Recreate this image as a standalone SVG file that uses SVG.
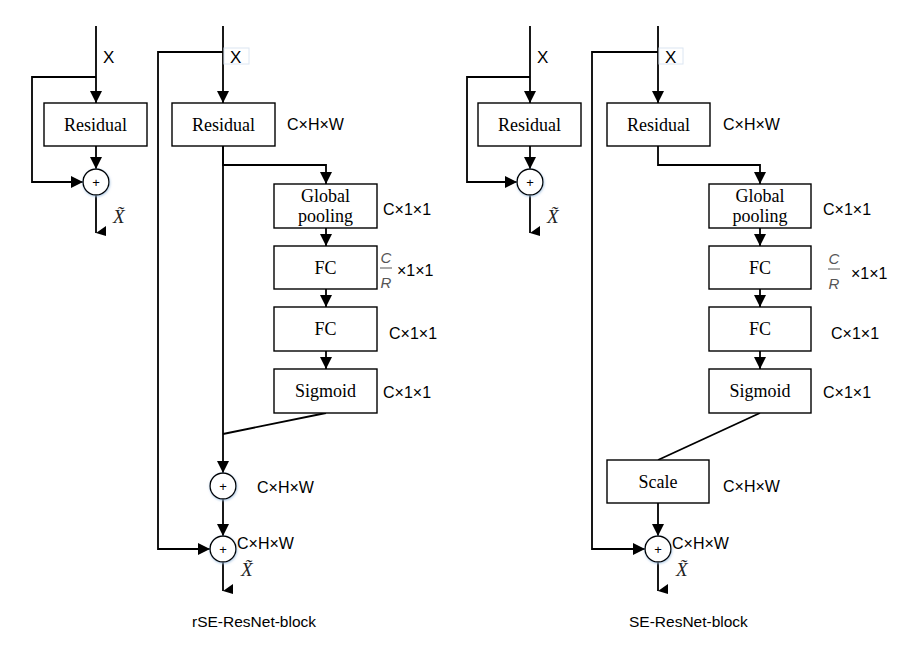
<svg xmlns="http://www.w3.org/2000/svg" width="913" height="656" viewBox="0 0 913 656">
<style>
.ln{fill:none;stroke:#000;stroke-width:1.8}
.box{fill:#fff;stroke:#000;stroke-width:1.4}
.bt{font-family:"Liberation Serif",serif;font-size:18px;text-anchor:middle;fill:#000}
.lb{font-family:"Liberation Sans",Arial,sans-serif;font-size:16px;fill:#000}
.xl{font-family:"Liberation Sans",Arial,sans-serif;font-size:17px;fill:#000}
.xt{font-family:"Liberation Serif",serif;font-size:19px;font-style:italic;fill:#222}
.fr{font-family:"Liberation Sans",Arial,sans-serif;font-size:15px;font-style:italic;fill:#555;text-anchor:middle}
.cap{font-family:"Liberation Sans",Arial,sans-serif;font-size:15.5px;fill:#000}
.cir{fill:#fff;stroke:#000;stroke-width:1.4}
.pl{font-family:"Liberation Sans",Arial,sans-serif;font-size:13px;text-anchor:middle;fill:#000}
.tri{fill:#000}
.xb{fill:none;stroke:#dce6f2;stroke-width:1}
</style>
<defs>
<marker id="ar" markerUnits="userSpaceOnUse" markerWidth="12" markerHeight="12" refX="12" refY="6" orient="auto">
<path d="M0,0 L12,6 L0,12 z" fill="#000"/>
</marker>
<filter id="gl" x="-50%" y="-50%" width="200%" height="200%">
<feDropShadow dx="0.5" dy="1" stdDeviation="1.2" flood-color="#9fbfe0" flood-opacity="0.8"/>
</filter>
</defs>

<g id="connectors">
<!-- panel 1 -->
<line class="ln" x1="96" y1="26" x2="96" y2="103" marker-end="url(#ar)"/>
<polyline class="ln" points="96,77 32,77 32,182 83,182" marker-end="url(#ar)"/>
<line class="ln" x1="96" y1="146" x2="96" y2="169" marker-end="url(#ar)"/>
<line class="ln" x1="96" y1="195" x2="96" y2="233"/>
<polygon class="tri" points="96,233 106,226 106,236"/>
<!-- panel 2 -->
<line class="ln" x1="223" y1="26" x2="223" y2="103" marker-end="url(#ar)"/>
<polyline class="ln" points="223,52 158,52 158,549 210,549" marker-end="url(#ar)"/>
<polyline class="ln" points="223,146 223,165 326,165 326,184" marker-end="url(#ar)"/>
<line class="ln" x1="326" y1="228" x2="326" y2="246" marker-end="url(#ar)"/>
<line class="ln" x1="326" y1="289" x2="326" y2="307" marker-end="url(#ar)"/>
<line class="ln" x1="326" y1="351" x2="326" y2="369" marker-end="url(#ar)"/>
<line class="ln" x1="223" y1="146" x2="223" y2="473" marker-end="url(#ar)"/>
<line class="ln" x1="326" y1="413" x2="223" y2="434"/>
<line class="ln" x1="223" y1="499" x2="223" y2="536" marker-end="url(#ar)"/>
<line class="ln" x1="223" y1="562" x2="223" y2="591"/>
<polygon class="tri" points="223,591 233,584 233,594"/>
<!-- panel 3 -->
<line class="ln" x1="530" y1="26" x2="530" y2="103" marker-end="url(#ar)"/>
<polyline class="ln" points="530,77 467,77 467,182 517,182" marker-end="url(#ar)"/>
<line class="ln" x1="530" y1="146" x2="530" y2="169" marker-end="url(#ar)"/>
<line class="ln" x1="530" y1="195" x2="530" y2="233"/>
<polygon class="tri" points="530,233 540,226 540,236"/>
<!-- panel 4 -->
<line class="ln" x1="658" y1="26" x2="658" y2="103" marker-end="url(#ar)"/>
<polyline class="ln" points="658,52 592,52 592,549 645,549" marker-end="url(#ar)"/>
<polyline class="ln" points="658,146 658,165 760,165 760,184" marker-end="url(#ar)"/>
<line class="ln" x1="760" y1="228" x2="760" y2="246" marker-end="url(#ar)"/>
<line class="ln" x1="760" y1="289" x2="760" y2="307" marker-end="url(#ar)"/>
<line class="ln" x1="760" y1="351" x2="760" y2="369" marker-end="url(#ar)"/>
<line class="ln" x1="760" y1="413" x2="658" y2="460"/>
<line class="ln" x1="658" y1="503" x2="658" y2="536" marker-end="url(#ar)"/>
<line class="ln" x1="658" y1="562" x2="658" y2="591"/>
<polygon class="tri" points="658,591 668,584 668,594"/>
</g>

<!-- panel 1 nodes -->
<g id="p1-x"><text class="xl" x="103" y="63">X</text></g>
<g id="p1-residual"><rect class="box" x="44" y="103" width="103" height="43"/><text class="bt" x="95.5" y="131">Residual</text></g>
<g id="p1-add"><circle class="cir" cx="96" cy="182" r="13" filter="url(#gl)"/><text class="pl" x="96" y="187">+</text></g>
<g id="p1-out"><text class="xt" x="113" y="223">X̃</text></g>

<!-- panel 2 nodes -->
<g id="p2-x"><rect class="xb" x="224" y="48" width="25" height="16"/><text class="xl" x="230" y="63">X</text></g>
<g id="p2-residual"><rect class="box" x="172" y="103" width="103" height="43"/><text class="bt" x="223.5" y="131">Residual</text><text class="lb" x="287" y="130">C×H×W</text></g>
<g id="p2-gpool"><rect class="box" x="274" y="184" width="103" height="44"/><text class="bt" x="325.5" y="202">Global</text><text class="bt" x="325.5" y="222">pooling</text><text class="lb" x="383" y="215">C×1×1</text></g>
<g id="p2-fc1"><rect class="box" x="274" y="246" width="103" height="43"/><text class="bt" x="325.5" y="274">FC</text>
<text class="fr" x="386" y="263">C</text><line x1="380" y1="268" x2="392" y2="268" stroke="#555" stroke-width="1"/><text class="fr" x="386" y="288">R</text><text class="lb" x="397" y="276">×1×1</text></g>
<g id="p2-fc2"><rect class="box" x="274" y="307" width="103" height="44"/><text class="bt" x="325.5" y="335">FC</text><text class="lb" x="389" y="339">C×1×1</text></g>
<g id="p2-sigmoid"><rect class="box" x="274" y="369" width="103" height="44"/><text class="bt" x="325.5" y="397">Sigmoid</text><text class="lb" x="383" y="398">C×1×1</text></g>
<g id="p2-add1"><circle class="cir" cx="223" cy="486" r="13" filter="url(#gl)"/><text class="pl" x="223" y="491">+</text><text class="lb" x="257" y="493">C×H×W</text></g>
<g id="p2-add2"><circle class="cir" cx="223" cy="549" r="13" filter="url(#gl)"/><text class="pl" x="223" y="554">+</text><text class="lb" x="237" y="549">C×H×W</text></g>
<g id="p2-out"><text class="xt" x="241" y="576">X̃</text></g>
<g id="p2-caption"><text class="cap" x="192" y="627">rSE-ResNet-block</text></g>

<!-- panel 3 nodes -->
<g id="p3-x"><text class="xl" x="537" y="63">X</text></g>
<g id="p3-residual"><rect class="box" x="478" y="103" width="103" height="43"/><text class="bt" x="529.5" y="131">Residual</text></g>
<g id="p3-add"><circle class="cir" cx="530" cy="182" r="13" filter="url(#gl)"/><text class="pl" x="530" y="187">+</text></g>
<g id="p3-out"><text class="xt" x="547" y="223">X̃</text></g>

<!-- panel 4 nodes -->
<g id="p4-x"><rect class="xb" x="659" y="48" width="24" height="16"/><text class="xl" x="665" y="63">X</text></g>
<g id="p4-residual"><rect class="box" x="607" y="103" width="103" height="43"/><text class="bt" x="658.5" y="131">Residual</text><text class="lb" x="723" y="130">C×H×W</text></g>
<g id="p4-gpool"><rect class="box" x="709" y="184" width="102" height="44"/><text class="bt" x="760" y="202">Global</text><text class="bt" x="760" y="222">pooling</text><text class="lb" x="823" y="215">C×1×1</text></g>
<g id="p4-fc1"><rect class="box" x="709" y="246" width="102" height="43"/><text class="bt" x="760" y="274">FC</text>
<text class="fr" x="834" y="264">C</text><line x1="828" y1="269" x2="840" y2="269" stroke="#555" stroke-width="1"/><text class="fr" x="834" y="289">R</text><text class="lb" x="851" y="279">×1×1</text></g>
<g id="p4-fc2"><rect class="box" x="709" y="307" width="102" height="44"/><text class="bt" x="760" y="335">FC</text><text class="lb" x="831" y="339">C×1×1</text></g>
<g id="p4-sigmoid"><rect class="box" x="709" y="369" width="102" height="44"/><text class="bt" x="760" y="397">Sigmoid</text><text class="lb" x="823" y="398">C×1×1</text></g>
<g id="p4-scale"><rect class="box" x="607" y="460" width="102" height="43"/><text class="bt" x="658" y="488">Scale</text><text class="lb" x="723" y="492">C×H×W</text></g>
<g id="p4-add"><circle class="cir" cx="658" cy="549" r="13" filter="url(#gl)"/><text class="pl" x="658" y="554">+</text><text class="lb" x="672" y="549">C×H×W</text></g>
<g id="p4-out"><text class="xt" x="676" y="576">X̃</text></g>
<g id="p4-caption"><text class="cap" x="629" y="627">SE-ResNet-block</text></g>
</svg>
